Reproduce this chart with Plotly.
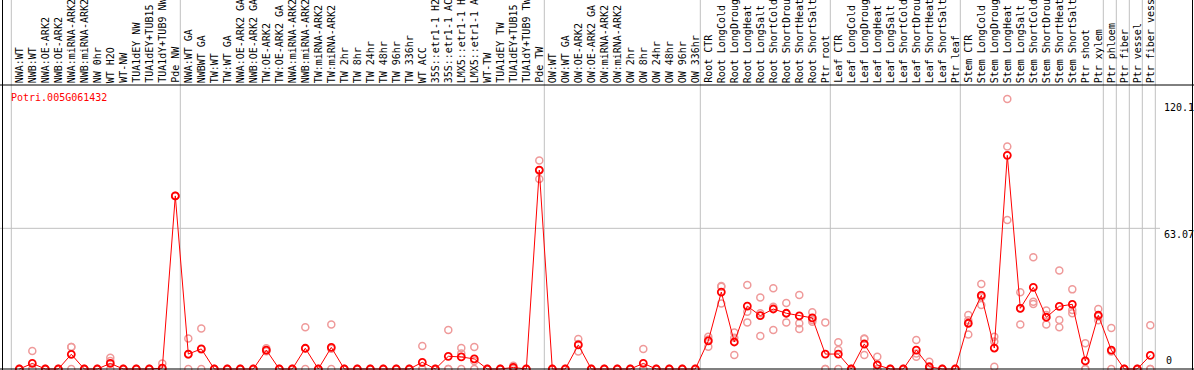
import plotly.graph_objects as go

# ---------------- data ----------------
gene_id = "Potri.005G061432"

categories = [
    "NWA:WT", "NWB:WT", "NWA:OE-ARK2", "NWB:OE-ARK2", "NWA:miRNA-ARK2", "NWB:miRNA-ARK2",
    "NW 0hr", "WT H2O", "WT-NW", "TUA1dEY NW", "TUA1dEY+TUB15 NW", "TUA1dY+TUB9 NW", "Pde NW",
    "NWA:WT GA", "NWBWT GA", "TW:WT", "TW:WT GA", "NWA:OE-ARK2 GA", "NWB:OE-ARK2 GA",
    "TW:OE-ARK2", "TW:OE-ARK2 GA", "NWA:miRNA-ARK2 GA", "NWB:miRNA-ARK2 GA", "TW:miRNA-ARK2",
    "TW:miRNA-ARK2 GA", "TW 2hr", "TW 8hr", "TW 24hr", "TW 48hr", "TW 96hr", "TW 336hr",
    "WT ACC", "35S::etr1-1 H2O", "35S::etr1-1 ACC", "LMX5::etr1-1 H2O", "LMX5::etr1-1 ACC",
    "WT-TW", "TUA1dEY TW", "TUA1dEY+TUB15 TW", "TUA1dY+TUB9 TW", "Pde TW",
    "OW:WT", "OW:WT GA", "OW:OE-ARK2", "OW:OE-ARK2 GA", "OW:miRNA-ARK2", "OW:miRNA-ARK2 GA",
    "OW 2hr", "OW 8hr", "OW 24hr", "OW 48hr", "OW 96hr", "OW 336hr",
    "Root CTR", "Root LongCold", "Root LongDrought", "Root LongHeat", "Root LongSalt",
    "Root ShortCold", "Root ShortDrought", "Root ShortHeat", "Root ShortSalt", "Ptr root",
    "Leaf CTR", "Leaf LongCold", "Leaf LongDrought", "Leaf LongHeat", "Leaf LongSalt",
    "Leaf ShortCold", "Leaf ShortDrought", "Leaf ShortHeat", "Leaf ShortSalt", "Ptr leaf",
    "Stem CTR", "Stem LongCold", "Stem LongDrought", "Stem LongHeat", "Stem LongSalt",
    "Stem ShortCold", "Stem ShortDrought", "Stem ShortHeat", "Stem ShortSalt", "Ptr shoot",
    "Ptr xylem", "Ptr phloem", "Ptr fiber", "Ptr vessel", "Ptr fiber vessel",
]

mean_values = [
    0, 2.5, 0, 0, 6.6, 0, 0, 2.5, 0, 0, 0, 0.4, 77.6,
    6.7, 9.0, 0, 0, 0, 0, 8.5, 0, 0, 9.3, 0, 9.7, 0, 0, 0, 0, 0, 0,
    3.0, 0, 5.7, 5.4, 4.5, 0, 0, 0.7, 0, 89.2,
    0, 0, 10.8, 0, 0, 0, 0, 2.5, 0, 0, 0, 0,
    12.6, 34.5, 12.1, 28.2, 23.9, 26.9, 25.0, 23.8, 22.9, 6.7,
    6.7, 0, 11.2, 1.8, 0, 0, 8.5, 1.0, 0, 0,
    20.5, 33.0, 9.4, 95.8, 27.2, 36.6, 23.2, 28.1, 29.0, 3.6,
    24.1, 8.5, 0, 0, 6.1,
]

rep_1 = [
    0, 8.1, 0, 0, 9.9, 0, 0, 5.0, 0, 0, 0, 2.5, 77.6,
    13.7, 18.2, 0, 0, 0, 0, 9.3, 0, 0, 18.7, 0, 20.0, 0, 0, 0, 0, 0, 0,
    10.3, 0, 17.5, 9.4, 9.9, 0, 0, 1.5, 0, 93.5,
    0, 0, 13.4, 0, 0, 0, 0, 9.0, 0, 0, 0, 0,
    14.5, 37.2, 16.4, 37.7, 32.1, 36.2, 29.6, 33.2, 25.4, 20.9,
    12.0, 0, 13.7, 5.5, 0, 0, 13.0, 3.3, 0, 0,
    24.2, 38.1, 14.5, 121.0, 34.4, 50.1, 26.2, 44.2, 35.7, 11.5,
    26.9, 18.4, 0, 0, 19.6,
]

rep_2 = [
    0, 0, 0, 0, 9.9, 0, 0, 3.6, 0, 0, 0, 0, 77.6,
    6.5, 8.8, 0, 0, 0, 0, 8.2, 0, 0, 9.2, 0, 9.1, 0, 0, 0, 0, 0, 0,
    0, 0, 0, 7.0, 3.6, 0, 0, 0.6, 0, 89.0,
    0, 0, 11.2, 0, 0, 0, 0, 0, 0, 0, 0, 0,
    13.2, 36.9, 14.0, 25.7, 25.0, 27.9, 25.0, 20.5, 22.0, 0,
    8.5, 0, 13.5, 0, 0, 0, 7.0, 0, 0, 0,
    21.8, 32.2, 12.3, 99.7, 27.2, 30.2, 24.2, 22.0, 26.4, 0,
    23.5, 7.8, 0, 0, 0,
]

rep_3 = [
    0, 0, 0, 0, 0, 0, 0, 0, 0, 0, 0, 0, 77.6,
    0, 0, 0, 0, 0, 0, 8.0, 0, 0, 0, 0, 0, 0, 0, 0, 0, 0, 0,
    0, 0, 0, 0, 0, 0, 0, 0, 0, 85.2,
    0, 0, 7.8, 0, 0, 0, 0, 0, 0, 0, 0, 0,
    10.0, 29.4, 6.3, 20.9, 14.8, 17.5, 20.9, 17.9, 21.2, 0,
    0, 0, 6.3, 0, 0, 0, 5.5, 0, 0, 0,
    15.5, 28.7, 1.0, 66.8, 20.0, 29.1, 20.0, 18.7, 25.0, 0,
    21.9, 0, 0, 0, 0,
]

y_tick_values = [0, 63.07, 120.1]
y_tick_labels = ["0", "63.07", "120.1"]
group_starts = [0, 13, 41, 53, 63, 73, 84, 85, 86, 87, 88]

# ---------------- layout geometry ----------------
W, H = 1194, 370
X0_PX, X_STEP = 19.3, 13.0          # pixel centre of first category, spacing
Y0_PX, Y_SCALE = 369.0, 2.2306      # pixel of value 0, pixels per unit


def px_to_x(px):
    return (px - X0_PX) / X_STEP


def py_to_y(py):
    return (Y0_PX - py) / Y_SCALE


def py_to_paper(py):
    return 1 - py / H


x_idx = list(range(len(categories)))
MONO = "DejaVu Sans Mono"
GREY = "#c0c0c0"

fig = go.Figure()

for reps in (rep_1, rep_2, rep_3):
    fig.add_trace(go.Scatter(
        x=x_idx, y=reps, mode="markers",
        marker=dict(symbol="circle-open", size=7, color="#ef9a9a",
                    line=dict(width=1.5, color="#ef9a9a")),
        hoverinfo="skip", showlegend=False,
    ))

fig.add_trace(go.Scatter(
    x=x_idx, y=mean_values, mode="lines+markers",
    line=dict(color="#ff0000", width=1),
    marker=dict(symbol="circle-open", size=7, color="#ff0000",
                line=dict(width=1.8, color="#ff0000")),
    text=categories, hovertemplate="%{text}: %{y}<extra></extra>",
    showlegend=False,
))

shapes = []
# group separators (grey, full height)
for g in group_starts:
    xv = g - 8.0 / X_STEP
    shapes.append(dict(type="line", xref="x", yref="paper", x0=xv, x1=xv, y0=0, y1=1,
                       line=dict(color=GREY, width=1), layer="below"))
# horizontal grid at middle tick
shapes.append(dict(type="line", xref="x", yref="y", x0=px_to_x(0), x1=px_to_x(1160),
                   y0=y_tick_values[1], y1=y_tick_values[1],
                   line=dict(color=GREY, width=1), layer="below"))
# black frame lines
shapes.append(dict(type="line", xref="paper", yref="paper", x0=0, x1=1,
                   y0=py_to_paper(85), y1=py_to_paper(85), line=dict(color="black", width=1)))
shapes.append(dict(type="line", xref="paper", yref="paper", x0=0, x1=1,
                   y0=py_to_paper(369), y1=py_to_paper(369), line=dict(color="black", width=1.2)))
shapes.append(dict(type="line", xref="paper", yref="paper", x0=2.5 / W, x1=2.5 / W,
                   y0=0, y1=1, line=dict(color="black", width=1)))
shapes.append(dict(type="line", xref="paper", yref="paper", x0=1192.5 / W, x1=1192.5 / W,
                   y0=0, y1=1, line=dict(color="black", width=1)))

annotations = []
# category labels (rotated, reading upward, clipped at top)
for i, name in enumerate(categories):
    annotations.append(dict(
        x=i, xref="x", y=py_to_paper(84), yref="paper",
        text=name, textangle=-90, showarrow=False,
        xanchor="center", yanchor="bottom", borderpad=0,
        font=dict(family=MONO, size=10, color="black"),
    ))
# gene id
annotations.append(dict(
    x=9 / W, xref="paper", y=py_to_paper(97), yref="paper",
    text=gene_id, showarrow=False, xanchor="left", yanchor="middle",
    font=dict(family=MONO, size=10, color="#ff0000"),
))
# y tick labels on the right
for val, lab in zip(y_tick_values, y_tick_labels):
    if val == 0:
        annotations.append(dict(x=1164 / W, xref="paper", y=val, yref="y", text=lab,
                                showarrow=False, xanchor="left", yanchor="bottom", yshift=1,
                                font=dict(family=MONO, size=10, color="black")))
    else:
        annotations.append(dict(x=1162 / W, xref="paper", y=val, yref="y", text=lab,
                                showarrow=False, xanchor="left", yanchor="top", yshift=1,
                                font=dict(family=MONO, size=10, color="black")))

fig.update_layout(
    width=W, height=H,
    margin=dict(l=0, r=0, t=0, b=0),
    paper_bgcolor="white", plot_bgcolor="white",
    xaxis=dict(range=[px_to_x(0), px_to_x(W)], visible=False, fixedrange=True),
    yaxis=dict(range=[py_to_y(H), py_to_y(0)], visible=False, fixedrange=True),
    shapes=shapes, annotations=annotations,
    showlegend=False,
)

fig.write_html(
    "out.html",
    config={"displayModeBar": False},
    post_script="document.body.style.margin='0px';document.body.style.overflow='hidden';",
)
